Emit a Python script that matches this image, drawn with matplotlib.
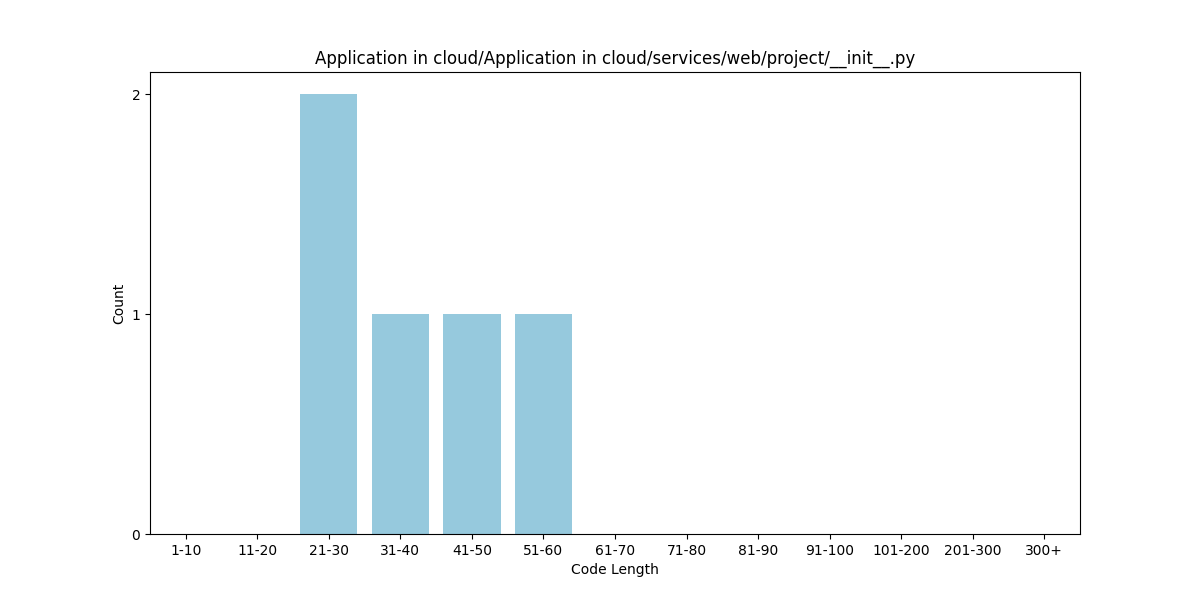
import matplotlib
matplotlib.use('Agg')
import matplotlib.pyplot as plt

categories = ['1-10', '11-20', '21-30', '31-40', '41-50', '51-60', '61-70',
              '71-80', '81-90', '91-100', '101-200', '201-300', '300+']
counts = [0, 0, 2, 1, 1, 1, 0, 0, 0, 0, 0, 0, 0]

fig, ax = plt.subplots(figsize=(12, 6), dpi=100)
xs = range(len(categories))
ax.bar(xs, counts, width=0.8, color='#96c9dd')
ax.set_xticks(list(xs))
ax.set_xticklabels(categories)
ax.set_xlim(-0.5, len(categories) - 0.5)
ax.set_ylim(0, 2.1)
ax.set_yticks([0, 1, 2])
ax.set_xlabel('Code Length')
ax.set_ylabel('Count')
ax.set_title('Application in cloud/Application in cloud/services/web/project/__init__.py')

fig.savefig('out.png')
